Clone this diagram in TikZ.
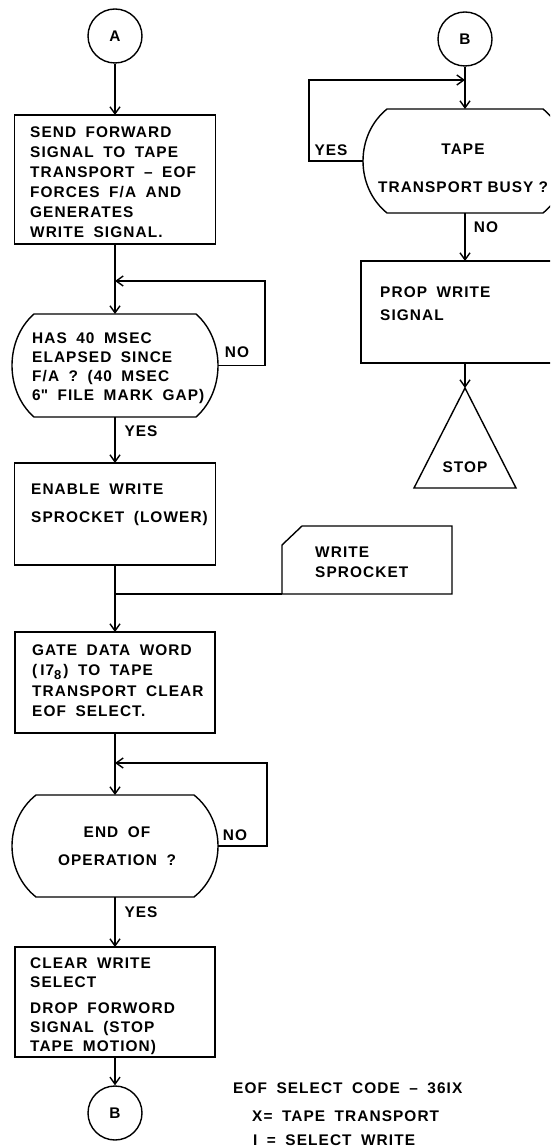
\documentclass[tikz,border=0pt]{standalone}
\usepackage{fontspec}
\newfontfamily\lett[LetterSpace=7]{Liberation Sans}
\usetikzlibrary{arrows.meta,calc}
\newcommand\lf[1]{\lett\bfseries\fontsize{15.4}{#1}\selectfont}
\newcommand\decdraw[2]{%
  \draw[line] ($(#1.north west)+(#2,0)$) -- ($(#1.north east)+(-#2,0)$)
    .. controls ($(#1.north east)!0.25!(#1.south east)+(#2/3,0)$) and ($(#1.north east)!0.75!(#1.south east)+(#2/3,0)$) .. ($(#1.south east)+(-#2,0)$)
    -- ($(#1.south west)+(#2,0)$)
    .. controls ($(#1.north west)!0.75!(#1.south west)+(-#2/3,0)$) and ($(#1.north west)!0.25!(#1.south west)+(-#2/3,0)$) .. cycle;}
\begin{document}
\begin{tikzpicture}[x=1pt,y=-1pt,
  every node/.style={font=\lf{20}, execute at begin node={\spaceskip=9.5pt plus 1pt minus 1pt\relax}},
  line/.style={line width=1.4pt},
  proc/.style={draw, line width=1.4pt, rectangle, inner sep=0pt, outer sep=0pt},
  conn/.style={draw, circle, line width=1.4pt, minimum size=54pt, inner sep=0pt},
  dec/.style={inner sep=0pt, outer sep=0pt},
  txt/.style={anchor=base west, inner sep=0pt, align=left, text width=230pt},
  lbl/.style={inner sep=0pt},
  flow/.style={line width=1.4pt, -{Straight Barb[length=7pt,width=10pt,line width=1.4pt]}}]
\fill[white] (0,0) rectangle (550,1147);
\useasboundingbox (0,0) rectangle (550,1147);
\clip (0,0) rectangle (550,1147);

% ---------- left column ----------
\node[conn] (A) at (115,36) {A};
\node[proc, minimum width=201pt, minimum height=129pt] (b1) at (115,179.5) {};
\node[txt] (b1t) at (30,138) {SEND FORWARD\\SIGNAL TO TAPE\\TRANSPORT \textendash{} EOF\\FORCES F/A AND\\GENERATES\\WRITE SIGNAL.};
\coordinate (j1) at (115,281);
\coordinate (l1) at (265,281);
\node[dec, minimum width=206pt, minimum height=103pt] (d1) at (115,365.5) {};
\decdraw{d1}{22}
\node[txt, font=\lf{19.3}] (d1t) at (32,343) {HAS 40 MSEC\\ELAPSED SINCE\\F/A ? (40 MSEC\\6\textquotedbl{} FILE MARK GAP)};
\node[lbl] (no1) at (237,352) {NO};
\node[lbl] (yes1) at (141,431) {YES};
\node[proc, minimum width=201pt, minimum height=102pt] (b2) at (115,514) {};
\node[txt, font=\lf{28}] (b2t) at (31,494) {ENABLE WRITE\\SPROCKET (LOWER)};
\coordinate (j2) at (115,594);
\node[dec, minimum width=170pt, minimum height=68pt] (ws) at (367,560) {};
\draw[line] (ws.south west) -- ($(ws.north west)+(0,19)$) -- ($(ws.north west)+(20,0)$) -- (ws.north east) -- (ws.south east) -- cycle;
\node[txt] (wst) at (315,557) {WRITE\\SPROCKET};
\node[proc, minimum width=200pt, minimum height=101pt] (b3) at (115,682.5) {};
\node[txt, font=\lf{20.5}] (b3t) at (32,655) {GATE DATA WORD\\(\kern3pt I7\raisebox{-4pt}{\fontsize{13}{13}\selectfont 8}\kern2pt) TO TAPE\\TRANSPORT CLEAR\\EOF SELECT.};
\coordinate (j3) at (115,763);
\coordinate (l3) at (267,763);
\node[dec, minimum width=206pt, minimum height=102pt] (d2) at (115,846) {};
\decdraw{d2}{24}
\node[lbl, align=center, font=\lf{28}] (d2t) at (117,846) {END OF\\OPERATION ?};
\node[lbl] (no2) at (235,835) {NO};
\node[lbl] (yes2) at (141,912) {YES};
\node[proc, minimum width=200pt, minimum height=110pt] (b4) at (115,1002) {};
\node[txt, font=\lf{19}] (b4t) at (30,968) {CLEAR WRITE\\SELECT\\[7pt]DROP FORWORD\\SIGNAL (STOP\\TAPE MOTION)};
\node[conn] (B) at (115,1113) {B};

% legend
\node[txt] (lg1) at (233,1093) {EOF SELECT CODE \textendash{} 36IX};
\node[txt] (lg2) at (252,1121) {X= TAPE TRANSPORT};
\node[txt] (lg3) at (253,1145) {I = SELECT WRITE};

% ---------- right column ----------
\node[conn] (B2) at (465,39) {B};
\coordinate (jB) at (465,80);
\coordinate (lB) at (309,80);
\node[dec, minimum width=204pt, minimum height=104pt] (dB) at (465,161) {};
\decdraw{dB}{24}
\node[lbl, text width=220pt, align=center, anchor=base, font=\lf{38}, execute at begin node={\spaceskip=5pt\relax}] (dBt) at (463,155) {TAPE\\TRANSPORT BUSY ?};
\node[lbl] (yesB) at (331,150) {YES};
\node[lbl] (noB) at (486,227) {NO};
\node[proc, minimum width=208pt, minimum height=102pt] (pw) at (465,312) {};
\node[txt, font=\lf{23}] (pwt) at (380,298) {PROP WRITE\\SIGNAL};
\coordinate (apex) at (465,388);
\draw[line, line join=miter] (apex) -- (516,488) -- (414,488) -- cycle;
\node[lbl] (stop) at (465,467) {STOP};

% ---------- connectors ----------
\draw[flow] (A) -- (b1);
\draw[flow] (b1) -- (d1);
\draw[flow] (d1.east) -| (l1) -- (j1);
\draw[flow] (d1) -- (b2);
\draw[flow] (b2) -- (b3);
\draw[line] (j2) -- (ws.south west);
\draw[flow] (b3) -- (d2);
\draw[flow] (d2.east) -| (l3) -- (j3);
\draw[flow] (d2) -- (b4);
\draw[flow] (b4) -- (B);
\draw[flow] (B2) -- (dB);
\draw[flow] (dB.west) -| (lB) -- (jB);
\draw[flow] (dB) -- (pw);
\draw[flow] (pw) -- (apex);
\end{tikzpicture}
\end{document}
